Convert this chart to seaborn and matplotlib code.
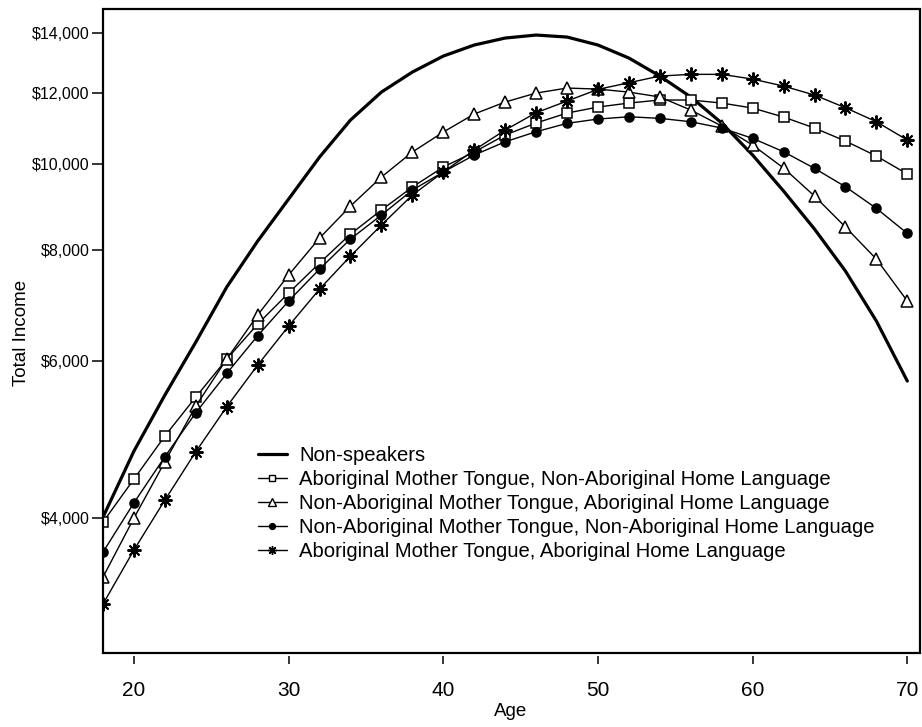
import matplotlib
matplotlib.use("Agg")
import matplotlib.pyplot as plt
from matplotlib.patches import Rectangle
from matplotlib.ticker import FixedLocator, FixedFormatter, NullLocator
from matplotlib.lines import Line2D
import seaborn as sns

# Predicted total income by age for each language group
AGES = list(range(18, 71, 2))

NON_SPEAKERS = [4013, 4759, 5500, 6307, 7270, 8187, 9125, 10171, 11192, 12030,
                12668, 13203, 13585, 13832, 13940, 13868, 13585, 13136, 12539,
                11879, 11106, 10224, 9316, 8445, 7577, 6659, 5703]
AB_MT_NONAB_HL = [3962, 4427, 4948, 5472, 6036, 6607, 7158, 7735, 8336, 8870,
                  9413, 9912, 10304, 10767, 11106, 11396, 11574, 11694, 11786,
                  11786, 11694, 11544, 11279, 10963, 10601, 10198, 9735]
NONAB_MT_AB_HL = [3437, 4003, 4630, 5346, 6036, 6763, 7499, 8251, 8962, 9660,
                  10304, 10850, 11367, 11725, 12000, 12156, 12124, 12030, 11879,
                  11484, 11020, 10492, 9887, 9197, 8489, 7815, 7012]
NONAB_MT_NONAB_HL = [3666, 4164, 4690, 5255, 5817, 6411, 7012, 7616, 8230, 8756,
                     9340, 9785, 10224, 10581, 10859, 11097, 11221, 11287, 11241,
                     11143, 10963, 10675, 10312, 9879, 9420, 8909, 8351]
AB_MT_AB_HL = [3206, 3686, 4193, 4751, 5337, 5943, 6573, 7232, 7876, 8533,
               9221, 9785, 10357, 10907, 11405, 11755, 12115, 12324, 12539,
               12594, 12594, 12441, 12218, 11938, 11553, 11143, 10628]

LABELS = [
    "Non-speakers",
    "Aboriginal Mother Tongue, Non-Aboriginal Home Language",
    "Non-Aboriginal Mother Tongue, Aboriginal Home Language",
    "Non-Aboriginal Mother Tongue, Non-Aboriginal Home Language",
    "Aboriginal Mother Tongue, Aboriginal Home Language",
]

Y_TICKS = [4000, 6000, 8000, 10000, 12000, 14000]
Y_TICK_LABELS = ["$4,000", "$6,000", "$8,000", "$10,000", "$12,000", "$14,000"]
X_TICKS = [20, 30, 40, 50, 60, 70]

sns.set_style("white")
plt.rcParams["font.family"] = ["Liberation Sans", "DejaVu Sans"]
plt.rcParams["text.color"] = "black"

fig = plt.figure(figsize=(9.22, 7.27), dpi=100)
W, H = 922, 727
ax = fig.add_axes([103 / W, 1 - 653 / H, (920 - 103) / W, (653 - 9) / H])

# (values, marker, marker size, face colour, edge width)
series = [
    (AB_MT_NONAB_HL, "s", 7, "white", 1.1),
    (NONAB_MT_AB_HL, "^", 8.5, "white", 1.1),
    (NONAB_MT_NONAB_HL, "o", 6.5, "black", 1.1),
    (AB_MT_AB_HL, (8, 2, 0), 10, "black", 1.4),
]

sns.lineplot(x=AGES, y=NON_SPEAKERS, color="black", linewidth=2.3, ax=ax,
             legend=False)
for vals, mk, ms, fc, mew in series:
    sns.lineplot(x=AGES, y=vals, color="black", linewidth=1.0, marker=mk,
                 markersize=ms, markerfacecolor=fc, markeredgecolor="black",
                 markeredgewidth=mew, ax=ax, legend=False)

ax.set_yscale("log")
ax.set_xlim(18, 70.82)
ax.set_ylim(2825, 14910)

ax.yaxis.set_major_locator(FixedLocator(Y_TICKS))
ax.yaxis.set_major_formatter(FixedFormatter(Y_TICK_LABELS))
ax.yaxis.set_minor_locator(NullLocator())
ax.set_xticks(X_TICKS)
ax.set_xticklabels([str(t) for t in X_TICKS])

# frame drawn as a box; x ticks sit a little below it
for s in ax.spines.values():
    s.set_visible(False)
ax.spines["bottom"].set_position(("outward", 2.5))
ax.add_patch(Rectangle((0, 0), 1, 1, transform=ax.transAxes, fill=False,
                       lw=1.6, edgecolor="black", clip_on=False, zorder=5))

ax.tick_params(axis="y", direction="out", length=8, width=1.1, pad=1.5,
               labelsize=11.5, left=True, colors="black")
ax.tick_params(axis="x", direction="out", length=6, width=1.1, pad=11.5,
               labelsize=15, bottom=True, colors="black")
ax.set_xlabel("")
ax.set_ylabel("")

fig.text(21 / W, 1 - 333 / H, "Total Income", rotation=90, ha="center",
         va="center", fontsize=13.5, color="black")
fig.text(511 / W, 1 - 712 / H, "Age", ha="center", va="center",
         fontsize=13.5, color="black")

handles = [Line2D([], [], color="black", lw=2.3)]
for vals, mk, ms, fc, mew in series:
    handles.append(Line2D([], [], color="black", lw=1.0, marker=mk,
                          markersize=ms * 0.65, markerfacecolor=fc,
                          markeredgecolor="black", markeredgewidth=1.0))
fig.legend(handles, LABELS, loc="upper left",
           bbox_to_anchor=(258 / W, 1 - 446 / H), frameon=False,
           fontsize=14.6, handlelength=1.42, handletextpad=0.62,
           labelspacing=0.25, borderpad=0, borderaxespad=0,
           labelcolor="black")

fig.savefig("out.png", dpi=100, facecolor="white")
